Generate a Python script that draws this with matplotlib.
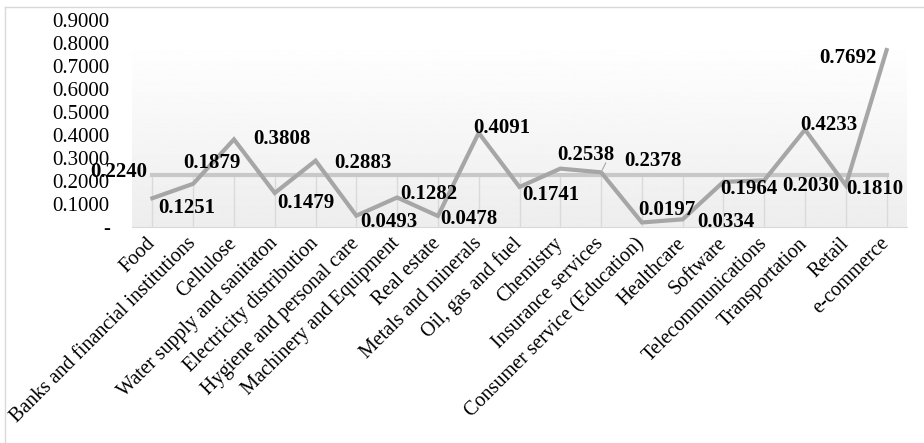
import numpy as np
import matplotlib
matplotlib.use("Agg")
import matplotlib.pyplot as plt
from matplotlib.lines import Line2D

plt.rcParams['font.family'] = ['Liberation Serif', 'DejaVu Serif']

# data
sectors = ["Food", "Banks and financial institutions", "Cellulose",
           "Water supply and sanitaton", "Electricity distribution",
           "Hygiene and personal care", "Machinery and Equipment", "Real estate",
           "Metals and minerals", "Oil, gas and fuel", "Chemistry",
           "Insurance services", "Consumer service (Education)", "Healthcare",
           "Software", "Telecommunications", "Transportation", "Retail",
           "e-commerce"]
values = [0.1251, 0.1879, 0.3808, 0.1479, 0.2883, 0.0493, 0.1282, 0.0478,
          0.4091, 0.1741, 0.2538, 0.2378, 0.0197, 0.0334, 0.1964, 0.2030,
          0.4233, 0.1810, 0.7692]
mean_value = 0.2240
yticks = [0, 0.1, 0.2, 0.3, 0.4, 0.5, 0.6, 0.7, 0.8, 0.9]

# label offsets in pixels (dx, dy) from each point
label_offsets = [(34, -10), (19, 21), (48, 0), (31, -10), (47, -2), (33, -6),
                 (32, 4), (31, -3), (23, 5), (31, -8), (26, 14), (52, 11),
                 (25, 12), (43, -3), (25, -7), (47, -6), (24, 5), (29, -4),
                 (-39, -8)]

W, H = 924, 443
PX = 0.72  # pixels -> points at dpi 100
fig = plt.figure(figsize=(W / 100, H / 100), dpi=100)
ax = fig.add_axes([132 / W, 1 - 227 / H, (907 - 132) / W, (227 - 20) / H])

x = np.arange(len(sectors))

# plot area background: white at top fading to light grey at bottom
grad = np.linspace(0, 1, 256).reshape(-1, 1)
grad = np.clip((grad - 0.1) / 0.9, 0, 1)
ax.imshow(1 - 0.07 * grad, cmap='gray', vmin=0, vmax=1, aspect='auto',
          origin='upper', extent=(-0.5, len(sectors) - 0.5, 0, 0.9), zorder=0)
ax.set_xlim(-0.5, len(sectors) - 0.5)
ax.set_ylim(0, 0.9)

# drop lines from the mean series
ax.vlines(x, 0, mean_value, color='#dadada', lw=1, zorder=1)

ax.plot(x, [mean_value] * len(x), color='#c8c8c8', lw=3, zorder=2)
ax.plot(x, values, color='#a6a6a6', lw=3, zorder=3, solid_joinstyle='miter')

for xi, v, (dx, dy) in zip(x, values, label_offsets):
    ax.annotate(f"{v:.4f}", (xi, v), xytext=(dx * PX, dy * PX),
                textcoords='offset points', ha='center', va='center',
                fontsize=15, fontweight='bold', zorder=5)

# leader line for Insurance services label
i = sectors.index("Insurance services")
ax.annotate("", (x[i], values[i]), xytext=(6 * PX, 12 * PX),
            textcoords='offset points',
            arrowprops=dict(arrowstyle='-', color='#a6a6a6', lw=0.8))

ax.annotate(f"{mean_value:.4f}", (0, mean_value), xytext=(-34 * PX, 3 * PX),
            textcoords='offset points', ha='center', va='center',
            fontsize=15, fontweight='bold', zorder=5)

ax.set_yticks(yticks)
ax.set_yticklabels(["-" if t == 0 else f"{t:.4f}" for t in yticks], fontsize=15)
ax.set_xticks(x)
ax.set_xticklabels(sectors, rotation=45, ha='right', va='center',
                   rotation_mode='anchor', fontsize=14.5)
ax.tick_params(axis='y', length=0, pad=16)
ax.tick_params(axis='x', length=0, pad=10)

for s in ['top', 'left', 'right']:
    ax.spines[s].set_visible(False)
ax.spines['bottom'].set_color('#d9d9d9')

# outer chart border (top and left visible)
fig.add_artist(Line2D([5 / W, 1], [1 - 7 / H, 1 - 7 / H], color='#d9d9d9', lw=1))
fig.add_artist(Line2D([5 / W, 5 / W], [0, 1 - 7 / H], color='#d9d9d9', lw=1))

fig.savefig("out.png", dpi=100)
